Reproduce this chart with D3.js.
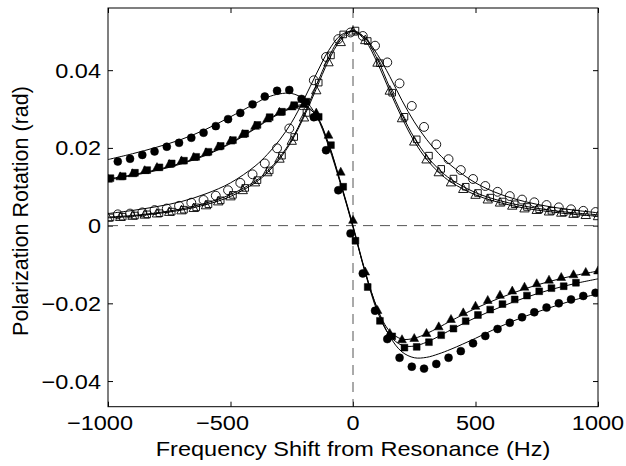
<!DOCTYPE html>
<html><head><meta charset="utf-8">
<script src="https://cdn.jsdelivr.net/npm/d3@7"></script>
<style>
html,body{margin:0;padding:0;background:#fff;}
svg{display:block;font-family:"Liberation Sans",Arial,Helvetica,sans-serif;}
</style></head>
<body>
<svg id="chart" width="626" height="466"></svg>
<script>
// ---------- data ----------
const xTicks = [-1000, -500, 0, 500, 1000];
const yTicks = [-0.04, -0.02, 0, 0.02, 0.04];
const xLabel = "Frequency Shift from Resonance (Hz)";
const yLabel = "Polarization Rotation (rad)";

// measured points (filled = dispersive, open = absorptive)
const xCirc = [-960,-910,-860,-810,-760,-710,-660,-610,-560,-510,-460,-410,-360,-310,-260,-210,-160,-110,-60,-10,40,90,140,190,240,290,340,390,440,490,540,590,640,690,740,790,840,890,940,990];
const dispCirc = [0.0165,0.0172,0.0182,0.0191,0.0203,0.0213,0.0226,0.0239,0.0256,0.0274,0.0290,0.0312,0.0332,0.0347,0.0349,0.0326,0.0279,0.0194,0.0091,-0.0020,-0.0123,-0.0219,-0.0292,-0.0340,-0.0363,-0.0368,-0.0356,-0.0340,-0.0323,-0.0303,-0.0284,-0.0266,-0.0250,-0.0236,-0.0223,-0.0211,-0.0200,-0.0190,-0.0181,-0.0173];
const absCirc = [0.0029,0.0031,0.0034,0.0040,0.0044,0.0051,0.0059,0.0066,0.0077,0.0091,0.0110,0.0132,0.0160,0.0199,0.0250,0.0310,0.0374,0.0434,0.0480,0.0497,0.0488,0.0463,0.0420,0.0366,0.0308,0.0254,0.0209,0.0171,0.0143,0.0120,0.0102,0.0087,0.0076,0.0067,0.0060,0.0053,0.0047,0.0042,0.0038,0.0035];

const xSq = [-990,-940,-890,-840,-790,-740,-690,-640,-590,-540,-490,-440,-390,-340,-290,-240,-190,-140,-90,-40,10,60,110,160,210,260,310,360,410,460,510,560,610,660,710,760,810,860,910];
const dispSq = [0.0122,0.0127,0.0136,0.0143,0.0150,0.0160,0.0167,0.0177,0.0190,0.0205,0.0220,0.0237,0.0259,0.0279,0.0293,0.0310,0.0319,0.0280,0.0207,0.0100,-0.0039,-0.0158,-0.0245,-0.0285,-0.0314,-0.0312,-0.0300,-0.0282,-0.0265,-0.0246,-0.0230,-0.0216,-0.0202,-0.0190,-0.0180,-0.0169,-0.0161,-0.0156,-0.0147];
const absSq = [0.0021,0.0023,0.0026,0.0029,0.0032,0.0036,0.0041,0.0047,0.0055,0.0065,0.0079,0.0097,0.0117,0.0142,0.0180,0.0228,0.0290,0.0368,0.0438,0.0492,0.0502,0.0475,0.0418,0.0342,0.0280,0.0222,0.0180,0.0146,0.0121,0.0100,0.0084,0.0072,0.0062,0.0055,0.0048,0.0042,0.0038,0.0034,0.0031];

const xTri = [-1000,-950,-900,-850,-800,-750,-700,-650,-600,-550,-500,-450,-400,-350,-300,-250,-200,-150,-100,-50,0,50,100,150,200,250,300,350,400,450,500,550,600,650,700,750,800,850,900,950,1000];
const dispTri = [0.0120,0.0126,0.0134,0.0142,0.0150,0.0158,0.0167,0.0176,0.0188,0.0203,0.0218,0.0235,0.0256,0.0275,0.0292,0.0306,0.0312,0.0290,0.0233,0.0138,0.0014,-0.0119,-0.0218,-0.0277,-0.0293,-0.0290,-0.0277,-0.0260,-0.0241,-0.0224,-0.0207,-0.0192,-0.0179,-0.0168,-0.0158,-0.0149,-0.0140,-0.0133,-0.0126,-0.0120,-0.0116];
const absTri = [0.0020,0.0022,0.0025,0.0028,0.0031,0.0035,0.0039,0.0045,0.0052,0.0062,0.0075,0.0091,0.0111,0.0137,0.0172,0.0218,0.0278,0.0348,0.0420,0.0472,0.0499,0.0477,0.0419,0.0347,0.0276,0.0216,0.0170,0.0137,0.0111,0.0094,0.0079,0.0067,0.0059,0.0051,0.0044,0.0040,0.0036,0.0033,0.0030,0.0027,0.0024];

// fitted curves
const xFit = [-1000,-900,-800,-700,-600,-500,-400,-350,-300,-250,-200,-150,-100,-50,0,50,100,150,200,250,300,350,400,500,600,700,800,900,1000];
const fitAbsCirc = [0.0031,0.0039,0.0049,0.0062,0.0082,0.0110,0.0153,0.0183,0.0220,0.0266,0.0325,0.0390,0.0450,0.0490,0.0500,0.0482,0.0440,0.0384,0.0322,0.0267,0.0222,0.0185,0.0155,0.0110,0.0081,0.0062,0.0049,0.0040,0.0033];
const fitAbsSq = [0.0022,0.0026,0.0033,0.0043,0.0058,0.0080,0.0114,0.0140,0.0175,0.0222,0.0285,0.0360,0.0432,0.0484,0.0502,0.0482,0.0428,0.0355,0.0286,0.0226,0.0180,0.0145,0.0119,0.0085,0.0064,0.0050,0.0040,0.0033,0.0028];
const fitAbsTri = [0.0020,0.0024,0.0031,0.0040,0.0054,0.0075,0.0110,0.0136,0.0171,0.0218,0.0280,0.0352,0.0424,0.0478,0.0500,0.0476,0.0418,0.0346,0.0277,0.0217,0.0171,0.0137,0.0112,0.0079,0.0059,0.0045,0.0036,0.0029,0.0024];
const fitDispCirc = [0.0170,0.0185,0.0202,0.0222,0.0248,0.0280,0.0314,0.0330,0.0339,0.0340,0.0325,0.0283,0.0205,0.0105,-0.0005,-0.0120,-0.0215,-0.0285,-0.0325,-0.0340,-0.0339,-0.0330,-0.0318,-0.0290,-0.0260,-0.0234,-0.0212,-0.0192,-0.0175];
const fitDispSq = [0.0120,0.0131,0.0144,0.0161,0.0183,0.0213,0.0251,0.0272,0.0290,0.0305,0.0310,0.0283,0.0210,0.0108,-0.0003,-0.0122,-0.0222,-0.0283,-0.0308,-0.0310,-0.0300,-0.0285,-0.0268,-0.0237,-0.0210,-0.0186,-0.0166,-0.0150,-0.0137];
const fitDispTri = [0.0118,0.0129,0.0142,0.0159,0.0181,0.0211,0.0249,0.0270,0.0288,0.0302,0.0307,0.0283,0.0212,0.0110,0.0000,-0.0118,-0.0215,-0.0272,-0.0292,-0.0290,-0.0278,-0.0262,-0.0245,-0.0213,-0.0186,-0.0163,-0.0144,-0.0129,-0.0117];

// ---------- drawing ----------
const svg = d3.select("#chart");
const L = 108, R = 598, T = 8, B = 406.7;
const x = d3.scaleLinear().domain([-1000, 1000]).range([L, R]);
const y = d3.scaleLinear().domain([-0.0466, 0.0560]).range([B, T]);
const FS = 21, SX = 1.12;   // font size and horizontal stretch of the original picture

svg.append("defs").append("clipPath").attr("id","clip")
  .append("rect").attr("x",L).attr("y",T).attr("width",R-L).attr("height",B-T);

const fmt = v => (v === 0 ? "0" : (v < 0 ? "\u2212" : "") + d3.format("")(Math.abs(v)));

// axes (ticks inward on all four sides); labels drawn separately
const tl = 5;
const gx = svg.append("g").attr("transform",`translate(0,${B})`)
  .call(d3.axisBottom(x).tickValues(xTicks).tickSize(-tl).tickFormat(""));
const gxt = svg.append("g").attr("transform",`translate(0,${T})`)
  .call(d3.axisTop(x).tickValues(xTicks).tickSize(-tl).tickFormat(""));
const gy = svg.append("g").attr("transform",`translate(${L},0)`)
  .call(d3.axisLeft(y).tickValues(yTicks).tickSize(-tl).tickFormat(""));
const gyr = svg.append("g").attr("transform",`translate(${R},0)`)
  .call(d3.axisRight(y).tickValues(yTicks).tickSize(-tl).tickFormat(""));
[gx,gxt,gy,gyr].forEach(g=>{
  g.select(".domain").remove();
  g.selectAll("line").attr("stroke","#000").attr("stroke-width",1);
  g.selectAll("text").remove();
});

function hText(px, py, anchor, str){
  svg.append("g").attr("transform",`translate(${px},${py}) scale(${SX},1)`)
    .append("text").attr("text-anchor",anchor).attr("fill","#000")
    .style("font-size",FS+"px").text(str);
}
// digits centred on the tick, minus sign hanging to the left
xTicks.forEach(v => hText(x(v) - (v < 0 ? 8 : 0), 430, "middle", fmt(v)));
yTicks.forEach(v => hText(101, y(v) + 7.5, "end", fmt(v)));

// dashed zero lines
const plot = svg.append("g").attr("clip-path","url(#clip)");
plot.append("line").attr("x1",L).attr("x2",R).attr("y1",y(0)).attr("y2",y(0))
  .attr("stroke","#555").attr("stroke-width",1).attr("stroke-dasharray","10,7");
plot.append("line").attr("x1",x(0)).attr("x2",x(0)).attr("y1",T).attr("y2",B)
  .attr("stroke","#555").attr("stroke-width",1).attr("stroke-dasharray","10,7");

// fit lines
const line = d3.line().x(d=>x(d[0])).y(d=>y(d[1])).curve(d3.curveCatmullRom.alpha(0.5));
[fitAbsCirc, fitAbsSq, fitAbsTri, fitDispCirc, fitDispSq, fitDispTri].forEach(arr=>{
  plot.append("path").datum(xFit.map((v,i)=>[v,arr[i]]))
    .attr("d", line).attr("fill","none").attr("stroke","#000").attr("stroke-width",1);
});

// markers
const triPath = s => `M0,${-s*0.6}L${s*0.55},${s*0.4}L${-s*0.55},${s*0.4}Z`;
function draw(xs, ys, shape, filled){
  const g = plot.append("g");
  const pts = xs.map((v,i)=>[x(v), y(ys[i])]);
  const sel = g.selectAll("path").data(pts).enter().append("path")
    .attr("transform", d=>`translate(${d[0]},${d[1]})`)
    .attr("fill", filled ? "#000" : "none")
    .attr("stroke","#000").attr("stroke-width", filled ? 0.5 : 0.9);
  if (shape==="circle") sel.attr("d", d3.symbol(d3.symbolCircle, filled ? 50 : 62)());
  if (shape==="square") sel.attr("d", filled ? "M-3.4,-3.4h6.8v6.8h-6.8Z" : "M-3.3,-3.3h6.6v6.6h-6.6Z");
  if (shape==="tri") sel.attr("d", triPath(filled ? 8 : 8.5));
}
draw(xCirc, absCirc, "circle", false);
draw(xSq, absSq, "square", false);
draw(xTri, absTri, "tri", false);
draw(xCirc, dispCirc, "circle", true);
draw(xSq, dispSq, "square", true);
draw(xTri, dispTri, "tri", true);

// frame
svg.append("rect").attr("x",L).attr("y",T).attr("width",R-L).attr("height",B-T)
  .attr("fill","none").attr("stroke","#000").attr("stroke-width",1);

// axis labels
hText((L+R)/2, 456, "middle", xLabel);
svg.append("text").attr("transform",`translate(28,211) rotate(-90)`)
  .attr("text-anchor","middle").attr("fill","#000").style("font-size","21.5px").text(yLabel);
</script>
</body></html>
